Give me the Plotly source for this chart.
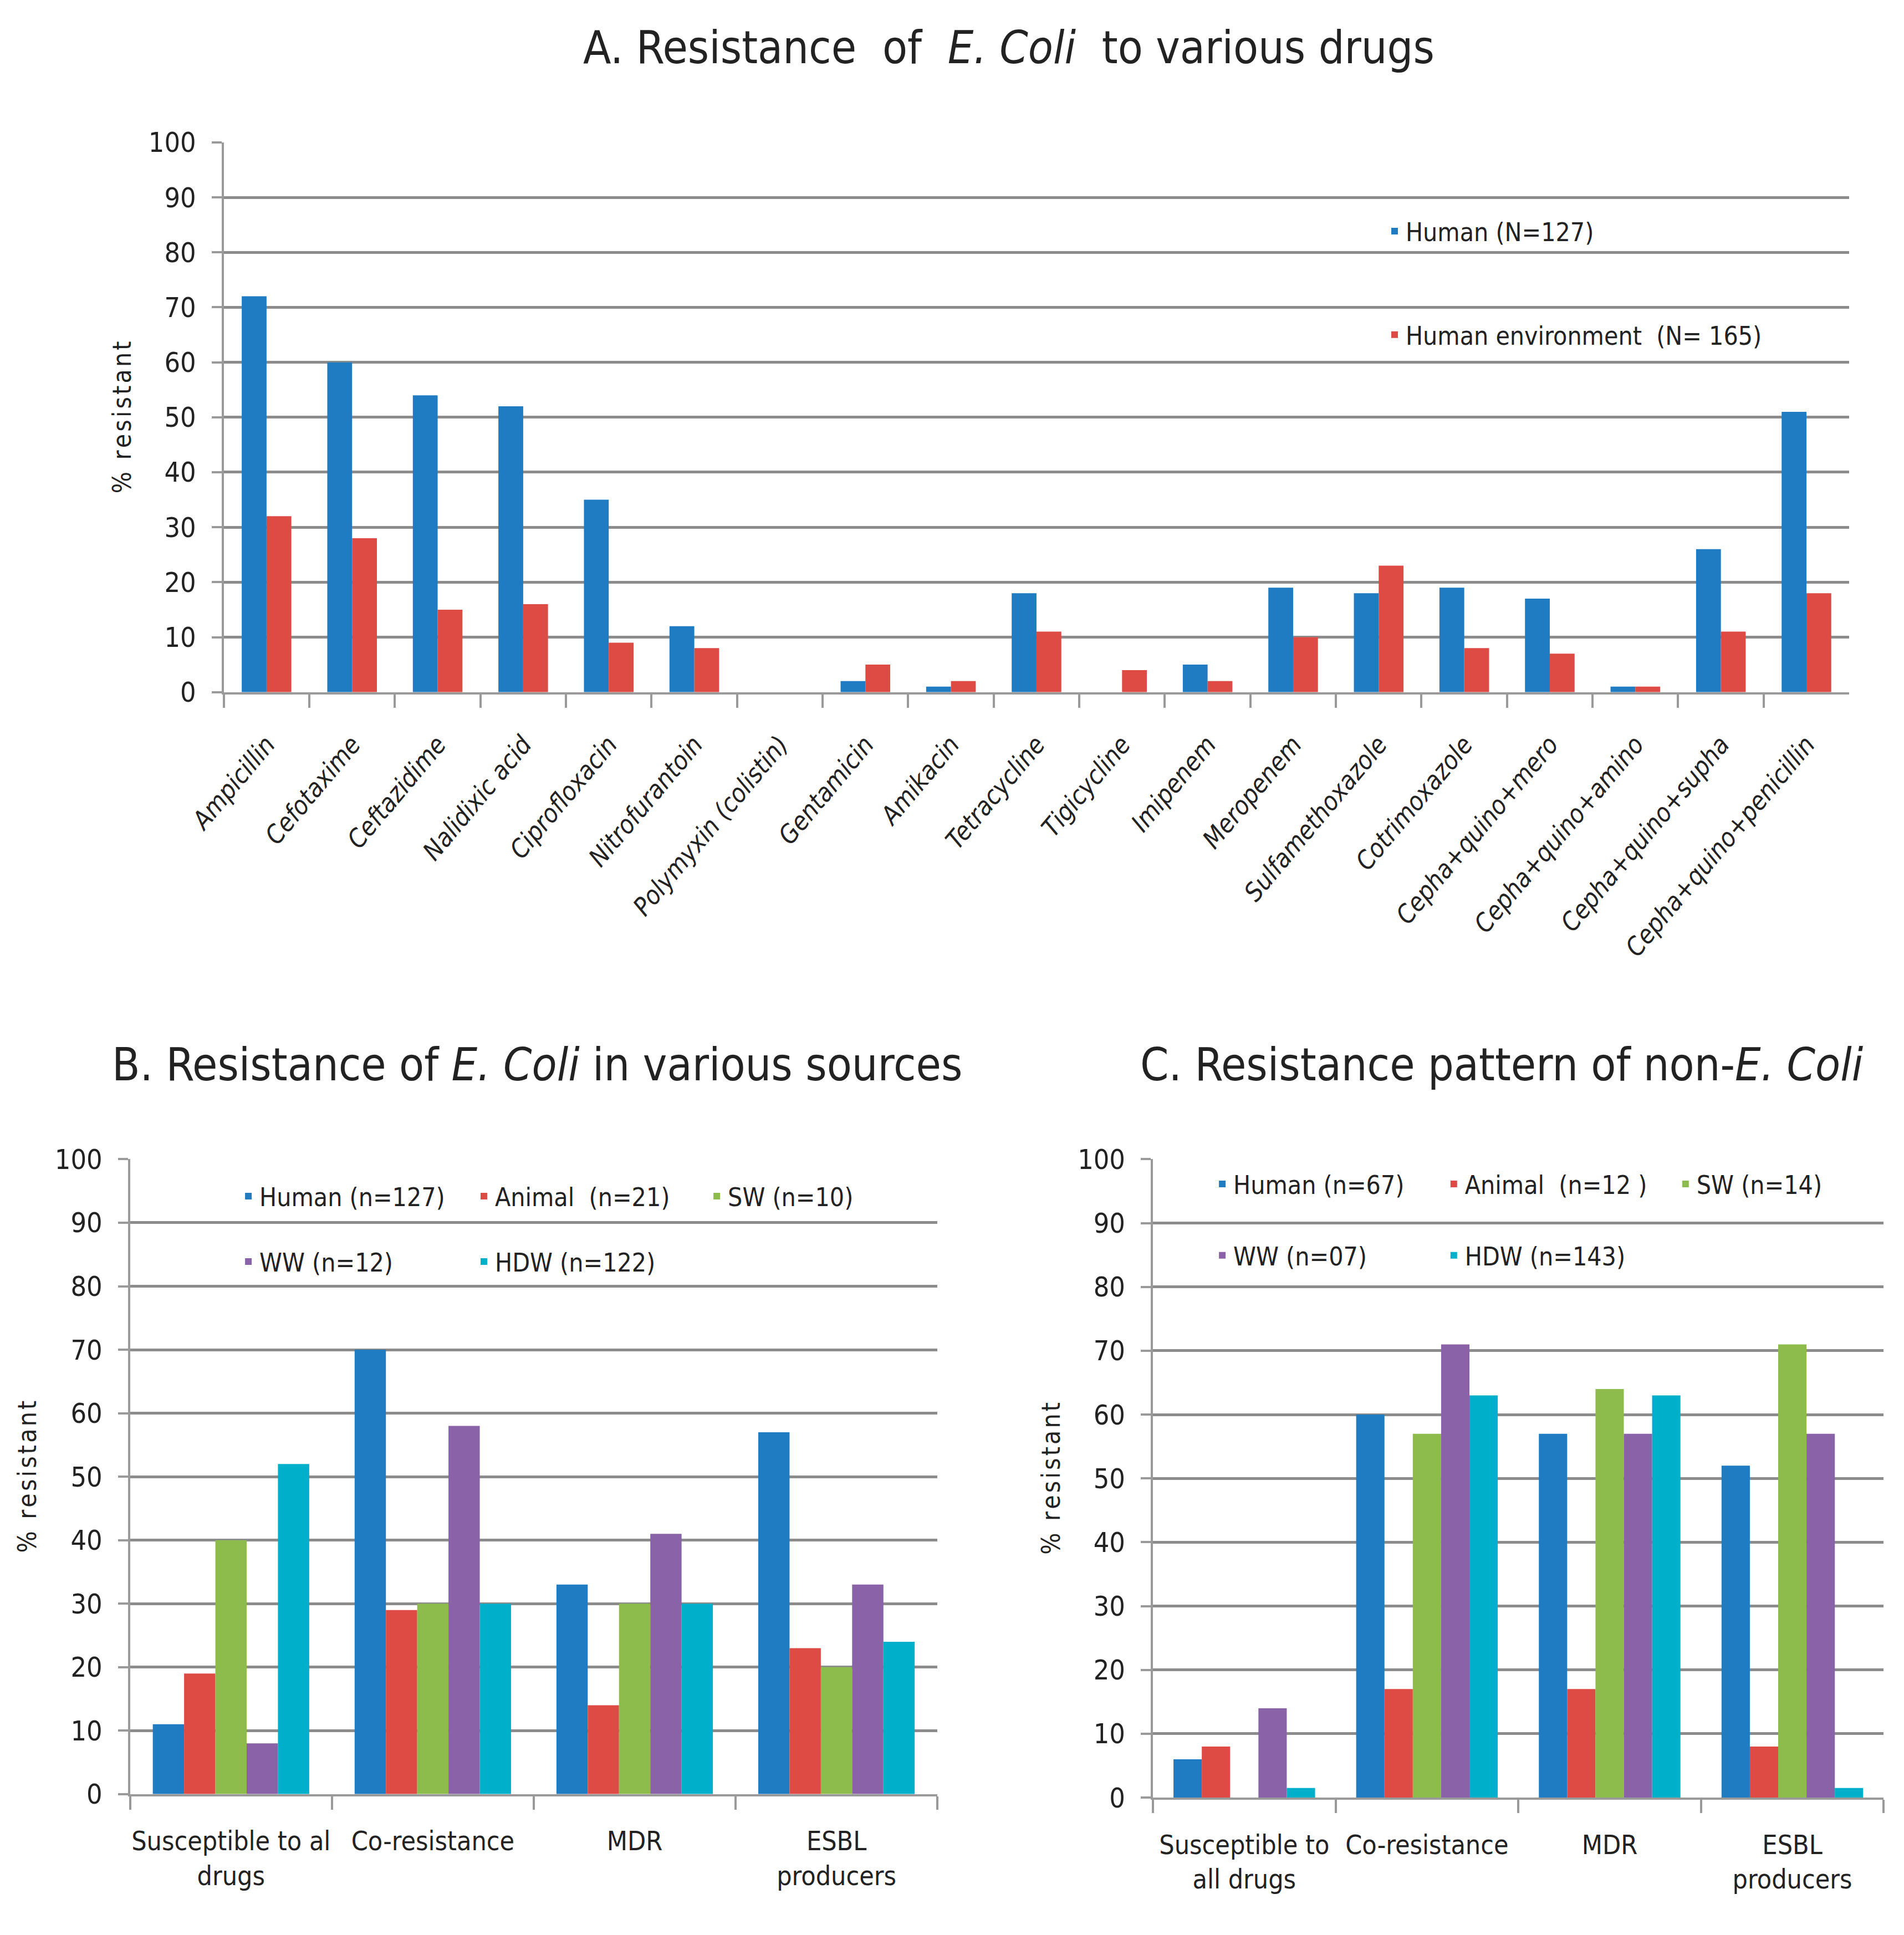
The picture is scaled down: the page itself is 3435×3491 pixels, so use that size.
import plotly.graph_objects as go

W, H = 3435, 3491
FONT = "Liberation Sans Narrow, DejaVu Sans Condensed, Arial Narrow, Open Sans, sans-serif"

# ---------------- Data ----------------
drugs = ["Ampicillin", "Cefotaxime", "Ceftazidime", "Nalidixic acid", "Ciprofloxacin",
         "Nitrofurantoin", "Polymyxin (colistin)", "Gentamicin", "Amikacin", "Tetracycline",
         "Tigicycline", "Imipenem", "Meropenem", "Sulfamethoxazole", "Cotrimoxazole",
         "Cepha+quino+mero", "Cepha+quino+amino", "Cepha+quino+supha", "Cepha+quino+penicillin"]
human_a = [72, 60, 54, 52, 35, 12, 0, 2, 1, 18, 0, 5, 19, 18, 19, 17, 1, 26, 51]
env_a = [32, 28, 15, 16, 9, 8, 0, 5, 2, 11, 4, 2, 10, 23, 8, 7, 1, 11, 18]
names_a = ["Human (N=127)", "Human environment\u00a0\u00a0(N=\u00a0165)"]

cats_b = ["Susceptible to al<br>drugs", "Co-resistance", "MDR", "ESBL<br>producers"]
names_b = ["Human (n=127)", "Animal\u00a0\u00a0(n=21)", "SW (n=10)", "WW (n=12)", "HDW (n=122)"]
human_b = [11, 70, 33, 57]
animal_b = [19, 29, 14, 23]
sw_b = [40, 30, 30, 20]
ww_b = [8, 58, 41, 33]
hdw_b = [52, 30, 30, 24]

cats_c = ["Susceptible to<br>all drugs", "Co-resistance", "MDR", "ESBL<br>producers"]
names_c = ["Human (n=67)", "Animal\u00a0\u00a0(n=12\u00a0)", "SW (n=14)", "WW (n=07)", "HDW (n=143)"]
human_c = [6, 60, 57, 52]
animal_c = [8, 17, 17, 8]
sw_c = [0, 57, 64, 71]
ww_c = [14, 71, 57, 57]
hdw_c = [1.5, 63, 63, 1.5]

y_ticks = [0, 10, 20, 30, 40, 50, 60, 70, 80, 90, 100]
y_title = "%\u200a \u200ar\u200ae\u200as\u200ai\u200as\u200at\u200aa\u200an\u200at"

COLORS = ["#1F7BC2", "#DE4B45", "#8DBB4C", "#8A62A8", "#00AFC9"]

fig = go.Figure()

leg_idx = [0]


def next_legend():
    leg_idx[0] += 1
    return "legend" if leg_idx[0] == 1 else f"legend{leg_idx[0]}"


for vals, name, col in zip([human_a, env_a], names_a, COLORS[:2]):
    fig.add_trace(go.Bar(x=drugs, y=vals, name=name, marker_color=col,
                         marker_line_width=0, xaxis="x", yaxis="y", legend=next_legend()))

for series, name, col in zip([human_b, animal_b, sw_b, ww_b, hdw_b], names_b, COLORS):
    fig.add_trace(go.Bar(x=cats_b, y=series, name=name, marker_color=col,
                         marker_line_width=0, xaxis="x2", yaxis="y2", legend=next_legend()))

for series, name, col in zip([human_c, animal_c, sw_c, ww_c, hdw_c], names_c, COLORS):
    fig.add_trace(go.Bar(x=cats_c, y=series, name=name, marker_color=col,
                         marker_line_width=0, xaxis="x3", yaxis="y3", legend=next_legend()))

# legend positions (paper coords): text start minus ~40px
leg_pos = [
    (0.7243, 0.8828), (0.7243, 0.8293),
    (0.1223, 0.3841), (0.2460, 0.3841), (0.3683, 0.3841), (0.1223, 0.3503), (0.2460, 0.3503),
    (0.6338, 0.3904), (0.7554, 0.3904), (0.8771, 0.3904), (0.6338, 0.3535), (0.7554, 0.3535),
]
leg_layout = {}
for i, (lx, ly) in enumerate(leg_pos):
    key = "legend" if i == 0 else f"legend{i + 1}"
    leg_layout[key] = dict(x=lx, y=ly, xanchor="left", yanchor="middle",
                           bgcolor="rgba(0,0,0,0)", borderwidth=0,
                           font=dict(family=FONT, size=46, color="#222222"))

GRID = "#8C8C8C"
AXC = "#9A9A9A"


def yaxis(domain, anchor, standoff):
    return dict(domain=domain, anchor=anchor, range=[0, 100], tickvals=y_ticks,
                automargin=False,
                showgrid=True, gridcolor=GRID, gridwidth=5, zeroline=False,
                showline=True, linecolor=AXC, linewidth=4,
                ticks="outside", ticklen=18, tickwidth=4, tickcolor=AXC,
                ticklabelstandoff=18,
                tickfont=dict(family=FONT, size=50, color="#222222"),
                title=dict(text=y_title, standoff=standoff,
                           font=dict(family=FONT, size=46, color="#222222")))


def xaxis(domain, anchor, tickfont, tickangle=0, standoff=20):
    return dict(domain=domain, anchor=anchor, type="category", automargin=False,
                showgrid=False, zeroline=False, showline=True, linecolor=AXC, linewidth=4,
                ticks="outside", tickson="boundaries", ticklen=24, tickwidth=4, tickcolor=AXC,
                tickangle=tickangle, tickfont=tickfont, ticklabelstandoff=standoff)


fig.update_layout(
    width=W, height=H, margin=dict(l=0, r=0, t=0, b=0, autoexpand=False),
    paper_bgcolor="white", plot_bgcolor="white",
    barmode="group", bargroupgap=0,
    showlegend=True,
    xaxis=xaxis([0.1152, 0.9689], "y",
                dict(family=FONT, size=46, color="#222222", style="italic"),
                tickangle=-50, standoff=45),
    yaxis=yaxis([0.6446, 0.9287], "x", 18),
    xaxis2=xaxis([0.0660, 0.4900], "y2", dict(family=FONT, size=48, color="#222222"),
                 standoff=40),
    yaxis2=yaxis([0.0751, 0.4032], "x2", 20),
    xaxis3=xaxis([0.6032, 0.9870], "y3", dict(family=FONT, size=48, color="#222222"),
                 standoff=40),
    yaxis3=yaxis([0.0733, 0.4032], "x3", 18),
    **leg_layout,
)

# bar widths / offsets per panel (A: two bars filling ~58% of each category; B/C: five bars ~77%)
for tr in fig.data:
    if tr.xaxis == "x":
        tr.width = 0.29
        tr.offset = -0.29 if tr.name == names_a[0] else 0.0
for axis_id in ["x2", "x3"]:
    for k, tr in enumerate([t for t in fig.data if t.xaxis == axis_id]):
        tr.width = 0.155
        tr.offset = -0.3875 + 0.155 * k

title_font = dict(family=FONT, size=82, color="#222222")
fig.add_annotation(text="A. Resistance\u00a0 of\u00a0 <i>E. Coli</i>\u00a0 to various drugs",
                   x=0.5275, y=0.9777, xref="paper", yref="paper", showarrow=False,
                   xanchor="center", yanchor="middle", font=title_font)
fig.add_annotation(text="B. Resistance of <i>E. Coli</i> in various sources",
                   x=0.2797, y=0.4523, xref="paper", yref="paper", showarrow=False,
                   xanchor="center", yanchor="middle", font=title_font)
fig.add_annotation(text="C. Resistance pattern of non-<i>E. Coli</i>",
                   x=0.7864, y=0.4523, xref="paper", yref="paper", showarrow=False,
                   xanchor="center", yanchor="middle", font=title_font)

fig.write_html("out.html")
